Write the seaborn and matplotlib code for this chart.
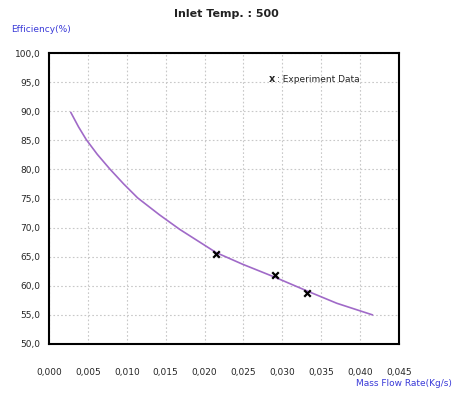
import numpy as np
import pandas as pd
import seaborn as sns
import matplotlib.pyplot as plt

# curve
flow = [0.0028, 0.0038, 0.0048, 0.0062, 0.0078, 0.0096, 0.0114, 0.0142, 0.0168,
        0.0215, 0.0249, 0.0290, 0.0332, 0.0370, 0.0416]
eff = [89.8, 87.3, 85.1, 82.6, 80.1, 77.5, 75.1, 72.2, 69.7,
       65.7, 63.7, 61.5, 59.1, 57.0, 55.0]

# experiment points
exp_flow = [0.0215, 0.0290, 0.0332]
exp_eff = [65.4, 61.9, 58.8]

x_ticks = [0.000, 0.005, 0.010, 0.015, 0.020, 0.025, 0.030, 0.035, 0.040, 0.045]
y_ticks = [50, 55, 60, 65, 70, 75, 80, 85, 90, 95, 100]

sns.set_style("white")
plt.rcParams['font.family'] = ['DejaVu Sans']

fig = plt.figure(figsize=(4.54, 3.94), dpi=100)
ax = fig.add_axes([49 / 454, 50 / 394, 350 / 454, 291 / 394])

curve = pd.DataFrame({"flow": flow, "eff": eff})
pts = pd.DataFrame({"flow": exp_flow, "eff": exp_eff})
sns.lineplot(data=curve, x="flow", y="eff", ax=ax, color="#a06ac8", linewidth=1.2)
sns.scatterplot(data=pts, x="flow", y="eff", ax=ax, marker="x", color="black",
                s=22, linewidth=1.6, zorder=5)

ax.set_xlim(0, 0.045)
ax.set_ylim(50, 100)
ax.set_xticks(x_ticks)
ax.set_yticks(y_ticks)
ax.set_xticklabels([f"{v:.3f}".replace(".", ",") for v in x_ticks], fontsize=6.5)
ax.set_yticklabels([f"{v:.1f}".replace(".", ",") for v in y_ticks], fontsize=6.5)
ax.tick_params(axis="both", direction="in", length=3, width=1, color="black")
ax.tick_params(axis="x", pad=17)
ax.tick_params(axis="y", pad=6)
ax.grid(True, color="#c8c8c8", linestyle=(0, (1.5, 2)), linewidth=0.8)
for sp in ax.spines.values():
    sp.set_color("black")
    sp.set_linewidth(1.5)
ax.set_xlabel("")
ax.set_ylabel("")

ax.text(0.0283, 95.5, "x", fontsize=7, fontweight="bold", ha="left", va="center")
ax.text(0.0293, 95.5, ": Experiment Data", fontsize=6.5, ha="left", va="center")

fig.text(226 / 454, 1 - 14 / 394, "Inlet Temp. : 500", fontsize=8, fontweight="bold",
         ha="center", va="center", color="#222222")
fig.text(11 / 454, 1 - 30 / 394, "Efficiency(%)", fontsize=6.5, color="#3a3ad8",
         ha="left", va="center")
fig.text(452 / 454, 1 - 383 / 394, "Mass Flow Rate(Kg/s)", fontsize=6.5, color="#3a3ad8",
         ha="right", va="center")

fig.savefig("out.png", dpi=100)
